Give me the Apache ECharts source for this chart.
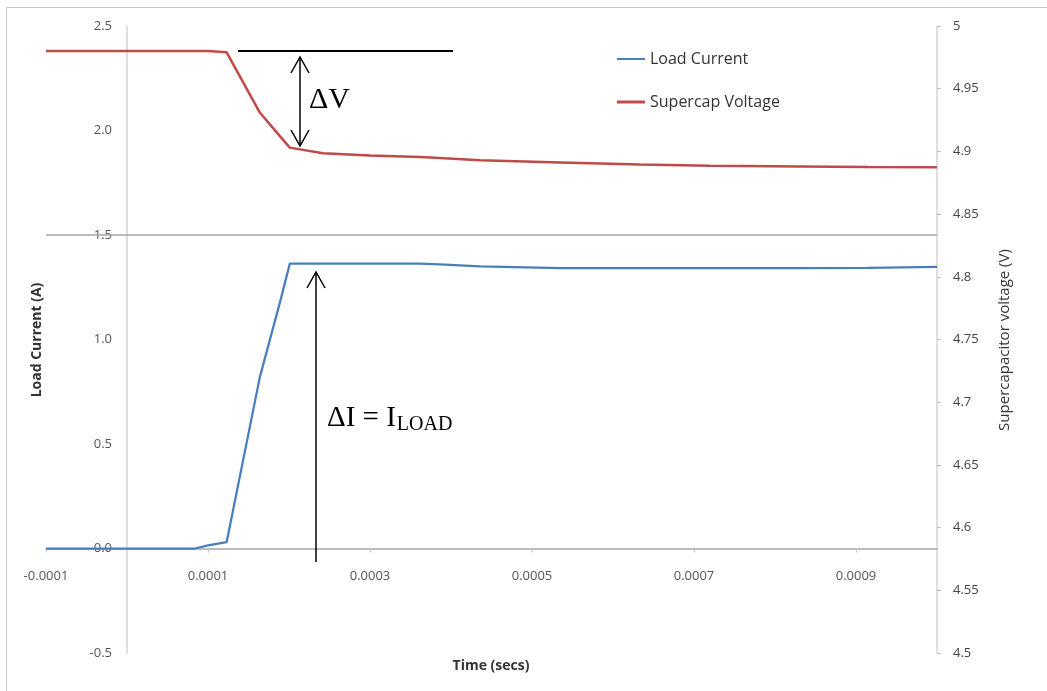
<!DOCTYPE html>
<html>
<head>
<meta charset="utf-8">
<script src="https://cdn.jsdelivr.net/npm/echarts@6/dist/echarts.min.js"></script>
<style>html,body{margin:0;padding:0;background:#fff}#c{width:1047px;height:691px}</style>
</head>
<body>
<div id="c"></div>
<script>
// Time (s)
var timeSecs = [-0.0001, 0.0, 0.000084, 0.0001, 0.000123, 0.000164, 0.000189, 0.000201, 0.000242, 0.0003, 0.000362, 0.000386, 0.000436, 0.000535, 0.000633, 0.00072, 0.000831, 0.000915, 0.001];
// Load current (A)
var loadCurrent = [0, 0, 0, 0.015, 0.03, 0.82, 1.18, 1.363, 1.363, 1.363, 1.363, 1.360, 1.350, 1.342, 1.341, 1.341, 1.341, 1.343, 1.347];
// Supercap voltage (V)
var supercapVoltage = [4.980, 4.980, 4.980, 4.980, 4.979, 4.931, 4.912, 4.903, 4.8985, 4.8968, 4.8955, 4.8948, 4.8930, 4.8912, 4.8895, 4.8886, 4.8880, 4.8875, 4.8873];
var seriesNames = ['Load Current', 'Supercap Voltage'];
var xAxisTitle = 'Time (secs)';
var leftAxisTitle = 'Load Current (A)';
var rightAxisTitle = 'Supercapacitor voltage (V)';

function pairs(xs, ys) { return xs.map(function (x, i) { return [x, ys[i]]; }); }

var FONT = 'Open Sans';
var SERIF = '"Liberation Serif"';
var chart = echarts.init(document.getElementById('c'));

var measureCtx = document.createElement('canvas').getContext('2d');
function textWidth(t, font) { measureCtx.font = font; return measureCtx.measureText(t).width; }

var option = {
  animation: false,
  backgroundColor: '#fff',
  grid: { left: 46, right: 110, top: 26, bottom: 38, containLabel: false },
  legend: {
    orient: 'vertical', left: 612, top: 46, itemWidth: 28, itemHeight: 14, itemGap: 27,
    textStyle: { fontFamily: FONT, fontSize: 16, color: '#333' },
    data: [
      { name: seriesNames[0], icon: 'path://M0,6 L28,6 L28,8 L0,8 Z' },
      { name: seriesNames[1], icon: 'path://M0,5.5 L28,5.5 L28,8.5 L0,8.5 Z' }
    ]
  },
  xAxis: {
    type: 'value', min: -0.0001, max: 0.001, interval: 0.0002,
    axisLine: { show: true, onZero: false, lineStyle: { color: '#a6a6a6', width: 1.5 } },
    axisTick: { show: true, length: 4, lineStyle: { color: '#c8c8c8' } },
    axisLabel: { margin: 21, fontFamily: FONT, fontSize: 13, color: '#555', showMaxLabel: false,
      formatter: function (v) { return v.toFixed(4); } },
    splitLine: { show: false }
  },
  yAxis: [
    {
      type: 'value', min: -0.5, max: 2.5, interval: 0.5,
      axisLine: { show: true, onZero: false, lineStyle: { color: '#d4d4d4', width: 1.5 } },
      axisTick: { show: false },
      axisLabel: { margin: 15, fontFamily: FONT, fontSize: 13, color: '#555', formatter: function (v) { return v.toFixed(1); } },
      splitLine: { show: false }
    },
    {
      type: 'value', position: 'right', min: 4.5, max: 5, interval: 0.05,
      axisLine: { show: true, onZero: false, lineStyle: { color: '#d4d4d4', width: 1.5 } },
      axisTick: { show: true, length: 4, lineStyle: { color: '#bfbfbf' } },
      axisLabel: { margin: 16, fontFamily: FONT, fontSize: 13, color: '#444' },
      splitLine: { show: false }
    }
  ],
  series: [
    {
      name: seriesNames[0], type: 'line', yAxisIndex: 0, symbol: 'none',
      data: pairs(timeSecs, loadCurrent),
      lineStyle: { color: '#4A7EBB', width: 2.25 }, itemStyle: { color: '#4A7EBB' },
      markLine: {
        silent: true, symbol: 'none', label: { show: false },
        lineStyle: { color: '#a6a6a6', width: 1.5, type: 'solid' },
        data: [{ yAxis: 1.5 }]
      },
      z: 3
    },
    {
      name: seriesNames[1], type: 'line', yAxisIndex: 1, symbol: 'none',
      data: pairs(timeSecs, supercapVoltage),
      lineStyle: { color: '#BE4B48', width: 2.5 }, itemStyle: { color: '#BE4B48' },
      z: 3
    }
  ]
};
chart.setOption(option);

// Move the primary axes so they cross at zero (Excel style), labels included.
var origin = chart.convertToPixel({ xAxisIndex: 0, yAxisIndex: 0 }, [0, 0]);
var gridLeft = 46, gridBottom = 691 - 38;

var iFont = '29px ' + SERIF;
var iText = 'ΔI = I';
var iX = 327;
var iW = textWidth(iText, iFont);

chart.setOption({
  xAxis: { offset: -(gridBottom - origin[1]) },
  yAxis: [{ offset: -(origin[0] - gridLeft) }, {}],
  graphic: [
    { type: 'rect', shape: { x: 6.5, y: 7.5, width: 2000, height: 2000 }, style: { fill: 'none', stroke: '#c8c8c8', lineWidth: 1 }, z: -10, silent: true },
    { type: 'text', x: 491, y: 666, style: { text: xAxisTitle, font: 'bold 14px "Open Sans"', fill: '#333', align: 'center', verticalAlign: 'middle' } },
    { type: 'text', x: 37, y: 340, rotation: Math.PI / 2, style: { text: leftAxisTitle, font: 'bold 14px "Open Sans"', fill: '#333', align: 'center', verticalAlign: 'middle' } },
    { type: 'text', x: 1005, y: 340, rotation: Math.PI / 2, style: { text: rightAxisTitle, font: '15px "Open Sans"', fill: '#333', align: 'center', verticalAlign: 'middle' } },
    // Delta V annotation
    { type: 'line', shape: { x1: 238, y1: 51, x2: 453, y2: 51 }, style: { stroke: '#000', lineWidth: 2 }, z: 10 },
    { type: 'line', shape: { x1: 300, y1: 57, x2: 300, y2: 146 }, style: { stroke: '#000', lineWidth: 1.5 }, z: 10 },
    { type: 'polyline', shape: { points: [[291, 73], [300, 57], [309, 73]] }, style: { stroke: '#000', lineWidth: 1.5, fill: 'none' }, z: 10 },
    { type: 'polyline', shape: { points: [[291, 130], [300, 146], [309, 130]] }, style: { stroke: '#000', lineWidth: 1.5, fill: 'none' }, z: 10 },
    { type: 'text', x: 309, y: 100, style: { text: 'ΔV', font: '30px ' + SERIF, fill: '#000', verticalAlign: 'middle' }, z: 10 },
    // Delta I annotation
    { type: 'line', shape: { x1: 316, y1: 272, x2: 316, y2: 562 }, style: { stroke: '#000', lineWidth: 1.5 }, z: 10 },
    { type: 'polyline', shape: { points: [[307, 288], [316, 272], [325, 288]] }, style: { stroke: '#000', lineWidth: 1.5, fill: 'none' }, z: 10 },
    { type: 'text', x: iX, y: 418, style: { text: iText, font: iFont, fill: '#000', verticalAlign: 'middle' }, z: 10 },
    { type: 'text', x: iX + iW + 1, y: 425, style: { text: 'LOAD', font: '20px ' + SERIF, fill: '#000', verticalAlign: 'middle' }, z: 10 }
  ]
});
</script>
</body>
</html>
